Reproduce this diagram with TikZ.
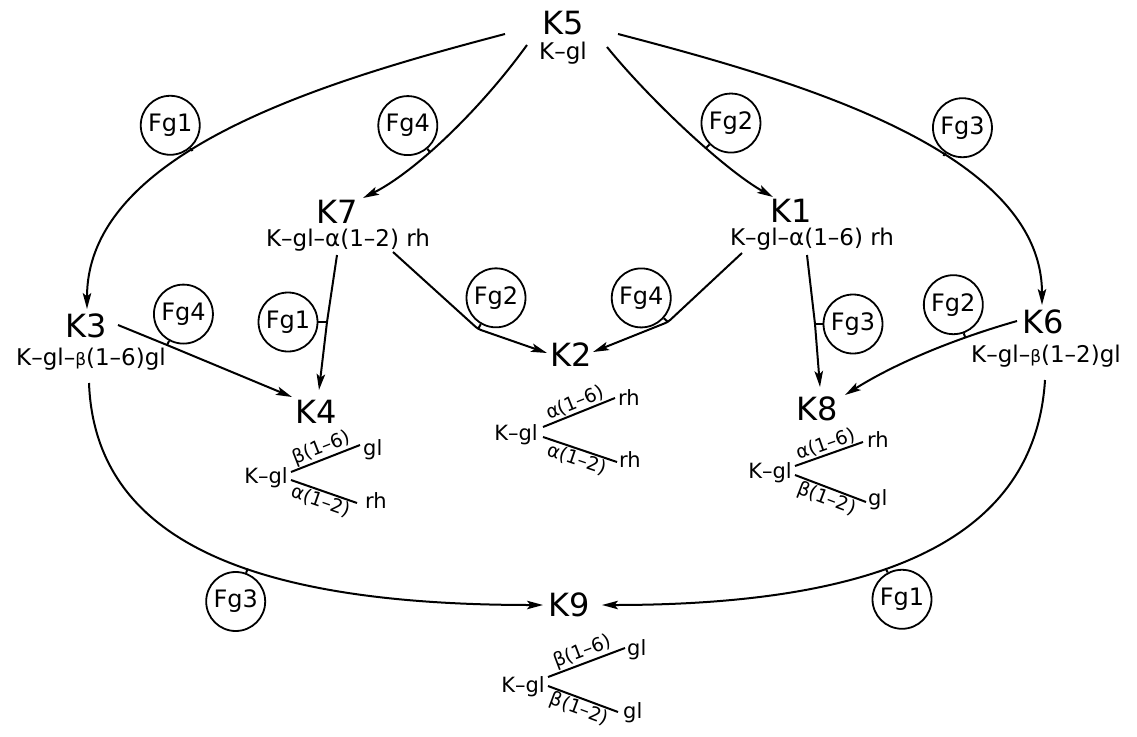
\documentclass[tikz,border=0pt]{standalone}
\usepackage{fontspec}
\setmainfont{DejaVu Sans}
\usetikzlibrary{arrows.meta,calc}
\newcommand{\kbig}{\fontsize{32}{32}\selectfont}
\newcommand{\ksub}{\fontsize{23}{23}\selectfont}
\newcommand{\fgf}{\fontsize{24}{24}\selectfont}
\newcommand{\brf}{\fontsize{21}{21}\selectfont}
\newcommand{\tipf}{\fontsize{21}{21}\selectfont}
\newcommand{\slf}{\fontsize{19}{19}\selectfont}
\newcommand{\smb}{{\fontsize{17}{17}\selectfont β}}
\tikzset{
  conn/.style={line width=2pt, line join=round, -{Stealth[length=16pt,width=8.5pt,inset=3.5pt]}},
  plain/.style={line width=2pt},
  fg/.style={circle, draw, line width=1.8pt, minimum size=59pt, inner sep=0pt, font=\fgf},
  kl/.style={anchor=base, font=\kbig, inner sep=0pt},
  ks/.style={anchor=base, font=\ksub, inner sep=0pt},
  br/.style={anchor=base east, font=\brf, inner sep=0pt},
  be/.style={anchor=base west, font=\tipf, inner sep=0pt},
  sl/.style={sloped, font=\slf, inner sep=1pt}
}
\begin{document}
\begin{tikzpicture}[x=1pt,y=1pt]
\fill[white] (0,0) rectangle (1137,-736);
\useasboundingbox (0,0) rectangle (1137,-736);

% main labels
\node[kl] (k5) at (563,-34) {K5};
\node[ks] (k5s) at (563,-59) {K–gl};
\node[kl] (k7) at (337,-223) {K7};
\node[ks] (k7s) at (348,-246) {K–gl–α(1–2) rh};
\node[kl] (k1) at (791,-222) {K1};
\node[ks] (k1s) at (812,-245) {K–gl–α(1–6) rh};
\node[kl] (k3) at (86,-337) {K3};
\node[ks] (k3s) at (91,-365) {K–gl–\smb(1–6)gl};
\node[kl] (k6) at (1043,-333) {K6};
\node[ks] (k6s) at (1046,-362) {K–gl–\smb(1–2)gl};
\node[kl] (k4) at (316,-423) {K4};
\node[kl] (k2) at (571,-366) {K2};
\node[kl] (k8) at (817,-420) {K8};
\node[kl] (k9) at (569,-616) {K9};

% connector end points
\coordinate (k5a) at (505,-34);
\coordinate (k5b) at (618,-34);
\coordinate (k5c) at (527,-45);
\coordinate (k5d) at (607,-47);
\coordinate (k3in) at (87,-309);
\coordinate (k6in) at (1042,-305);
\coordinate (k7in) at (363,-198);
\coordinate (k1in) at (773,-197);
\coordinate (k3o1) at (118,-325);
\coordinate (k3o2) at (89,-383);
\coordinate (k6o1) at (1017,-321);
\coordinate (k6o2) at (1045,-380);
\coordinate (k7o1) at (337,-255);
\coordinate (k7o2) at (393,-252);
\coordinate (k1o1) at (742,-253);
\coordinate (k1o2) at (807,-255);
\coordinate (k4a1) at (292,-397);
\coordinate (k4a2) at (319,-390);
\coordinate (k2a1) at (547,-353);
\coordinate (k2a2) at (593,-352);
\coordinate (k8a1) at (820,-387);
\coordinate (k8a2) at (845,-395);
\coordinate (k9a1) at (543,-605);
\coordinate (k9a2) at (602,-605);

% bend points where the Fg ticks meet straight connectors
\coordinate (t5) at (167,-345);
\coordinate (t6) at (327,-322);
\coordinate (t7) at (478,-329);
\coordinate (t8) at (668,-322);
\coordinate (t9) at (815,-324);

% connectors
\draw[conn] (k5a) .. controls (330,-80) and (87,-150) .. (k3in) coordinate[pos=0.58] (t1);
\draw[conn] (k5b) .. controls (794,-80) and (1042,-150) .. (k6in) coordinate[pos=0.6] (t2);
\draw[conn] (k5c) .. controls (480,-110) and (415,-172) .. (k7in) coordinate[pos=0.6] (t3);
\draw[conn] (k5d) .. controls (650,-100) and (725,-170) .. (k1in) coordinate[pos=0.6] (t4);
\draw[conn] (k3o1) -- (t5) -- (k4a1);
\draw[conn] (k7o1) -- (t6) -- (k4a2);
\draw[conn, rounded corners=3pt] (k7o2) -- (t7) -- (k2a1);
\draw[conn, rounded corners=3pt] (k1o1) -- (t8) -- (k2a2);
\draw[conn] (k1o2) -- (t9) -- (k8a1);
\draw[conn] (k6o1) .. controls (954,-339) and (896,-363) .. (k8a2) coordinate[pos=0.28] (t10);
\draw[conn] (k3o2) .. controls (95,-540) and (250,-605) .. (k9a1) coordinate[pos=0.58] (t11);
\draw[conn] (k6o2) .. controls (1035,-540) and (880,-605) .. (k9a2) coordinate[pos=0.58] (t12);

% Fg circles with ticks
\node[fg] (f1) at ($(t1)+(131:34)$) {Fg1};
\node[fg] (f2) at ($(t2)+(56:34)$) {Fg3};
\node[fg] (f3) at ($(t3)+(130:34)$) {Fg4};
\node[fg] (f4) at ($(t4)+(45:35)$) {Fg2};
\node[fg] (f5) at ($(t5)+(62:35)$) {Fg4};
\node[fg] (f6) at ($(t6)+(180:39)$) {Fg1};
\node[fg] (f7) at ($(t7)+(60:36)$) {Fg2};
\node[fg] (f8) at ($(t8)+(138:36)$) {Fg4};
\node[fg] (f9) at ($(t9)+(0:38)$) {Fg3};
\node[fg] (f10) at ($(t10)+(110:35)$) {Fg2};
\node[fg] (f11) at ($(t11)+(-110:35)$) {Fg3};
\node[fg] (f12) at ($(t12)+(-62:35)$) {Fg1};
\foreach \i in {1,...,12} { \draw[plain] (f\i) -- (t\i); }

% branch K4
\node[br] (k4g) at (288,-483) {K–gl};
\coordinate (k4p) at (291,-472); \coordinate (k4q) at (360,-445);
\coordinate (k4r) at (291,-480); \coordinate (k4s) at (357,-503);
\node[be] (k4u) at (363,-455) {gl};
\node[be] (k4v) at (365,-508) {rh};
\draw[plain] (k4p) -- node[sl, above] {β(1–6)} (k4q);
\draw[plain] (k4r) -- node[sl, below] {α(1–2)} (k4s);

% branch K2
\node[br] (k2g) at (538,-440) {K–gl};
\coordinate (k2p) at (543,-427); \coordinate (k2q) at (615,-398);
\coordinate (k2r) at (543,-437); \coordinate (k2s) at (617,-462);
\node[be] (k2u) at (618,-405) {rh};
\node[be] (k2v) at (619,-467) {rh};
\draw[plain] (k2p) -- node[sl, above] {α(1–6)} (k2q);
\draw[plain] (k2r) -- node[sl, below] {α(1–2)} (k2s);

% branch K8
\node[br] (k8g) at (792,-478) {K–gl};
\coordinate (k8p) at (795,-466); \coordinate (k8q) at (863,-442);
\coordinate (k8r) at (795,-475); \coordinate (k8s) at (866,-502);
\node[be] (k8u) at (867,-447) {rh};
\node[be] (k8v) at (868,-505) {gl};
\draw[plain] (k8p) -- node[sl, above] {α(1–6)} (k8q);
\draw[plain] (k8r) -- node[sl, below] {β(1–2)} (k8s);

% branch K9
\node[br] (k9g) at (545,-692) {K–gl};
\coordinate (k9p) at (548,-677); \coordinate (k9q) at (625,-648);
\coordinate (k9r) at (548,-686); \coordinate (k9s) at (618,-712);
\node[be] (k9u) at (627,-655) {gl};
\node[be] (k9v) at (623,-718) {gl};
\draw[plain] (k9p) -- node[sl, above] {β(1–6)} (k9q);
\draw[plain] (k9r) -- node[sl, below] {β(1–2)} (k9s);
\end{tikzpicture}
\end{document}
